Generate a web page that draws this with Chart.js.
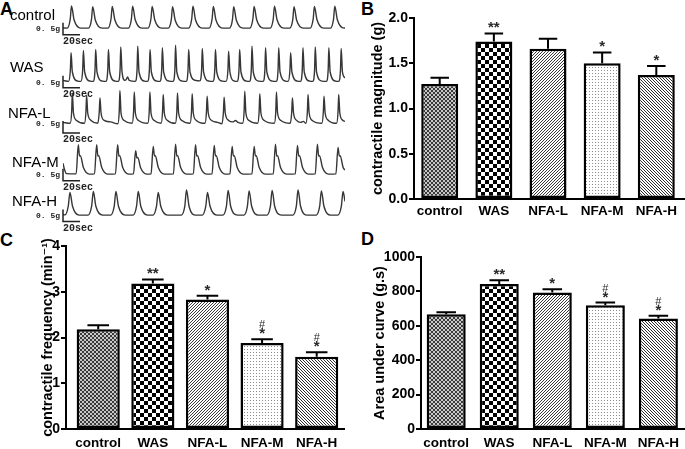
<!DOCTYPE html>
<html>
<head>
<meta charset="utf-8">
<script src="https://cdn.jsdelivr.net/npm/chart.js@4.4.0/dist/chart.umd.min.js"></script>
<style>
  body { margin: 0; width: 685px; height: 449px; position: relative; overflow: hidden; background: #fff; }
  canvas { position: absolute; }
  .letter { position: absolute; font: bold 18px "Liberation Sans", Arial, sans-serif; line-height: 1; color: #000; }
</style>
</head>
<body>
<div class="letter" style="left:0;top:0">A</div>
<div class="letter" style="left:361px;top:0">B</div>
<div class="letter" style="left:0;top:231px">C</div>
<div class="letter" style="left:361px;top:230px">D</div>

<canvas id="trControl" width="345" height="62" style="left:0;top:-12px"></canvas>
<canvas id="trWAS" width="345" height="62" style="left:0;top:42px"></canvas>
<canvas id="trNFAL" width="345" height="62" style="left:0;top:83px"></canvas>
<canvas id="trNFAM" width="345" height="62" style="left:0;top:134px"></canvas>
<canvas id="trNFAH" width="345" height="62" style="left:0;top:175px"></canvas>

<canvas id="chartB" width="340" height="225" style="left:345px;top:0"></canvas>
<canvas id="chartC" width="345" height="224" style="left:0;top:225px"></canvas>
<canvas id="chartD" width="340" height="224" style="left:345px;top:225px"></canvas>

<script>
// =========================================================
// Bar panels B, C, D
const groups = ['control', 'WAS', 'NFA-L', 'NFA-M', 'NFA-H'];

const magnitude = [1.27, 1.74, 1.66, 1.50, 1.37];
const magnitudeErr = [0.07, 0.09, 0.11, 0.12, 0.10];
const starsB = ['', '**', '', '*', '*'];
const hashB = ['', '', '', '', ''];
const ticksB = [0, 0.5, 1.0, 1.5, 2.0];

const frequency = [2.18, 3.18, 2.83, 1.88, 1.58];
const frequencyErr = [0.09, 0.09, 0.08, 0.08, 0.10];
const starsC = ['', '**', '*', '*', '*'];
const hashC = ['', '', '', '#', '#'];
const ticksC = [0, 1, 2, 3, 4];

const auc = [667, 843, 793, 720, 642];
const aucErr = [12, 22, 19, 15, 16];
const starsD = ['', '**', '*', '*', '*'];
const hashD = ['', '', '', '#', '#'];
const ticksD = [0, 200, 400, 600, 800, 1000];

// =========================================================
// Panel A traces: [time (s), force (g)]
const traceControl = [
  [0,0.04],[5,0.03],[8.5,0.4],[10,0.95],[13,0.38],[21,0.03],
  [30,0.03],[33.5,0.38],[35,0.92],[38,0.37],[46,0.03],
  [53,0.03],[56.5,0.4],[58,0.93],[61,0.38],[69,0.03],
  [77,0.03],[80.5,0.4],[82,0.94],[85,0.38],[93,0.03],
  [100,0.03],[103.5,0.4],[105,0.93],[108,0.38],[116,0.03],
  [124,0.03],[127.5,0.38],[129,0.92],[132,0.37],[140,0.03],
  [148,0.03],[151.5,0.4],[153,0.94],[156,0.38],[164,0.03],
  [172,0.03],[175.5,0.4],[177,0.93],[180,0.38],[188,0.03],
  [196,0.03],[199.5,0.38],[201,0.92],[204,0.37],[212,0.03],
  [220,0.03],[223.5,0.4],[225,0.93],[228,0.38],[236,0.03],
  [244,0.03],[247.5,0.4],[249,0.94],[252,0.38],[260,0.03],
  [267,0.03],[270.5,0.38],[272,0.92],[275,0.37],[283,0.03],
  [291,0.03],[294.5,0.4],[296,0.93],[299,0.38],[307,0.03],
  [315,0.03],[318.5,0.4],[320,0.94],[323,0.38],[331,0.03],[332,0.05]
];
const traceWAS = [
  [0,0.1],[6.5,0.06],[8.7,0.55],[9.5,1.25],[11,0.45],[17.5,0.07],
  [21,0.06],[23.2,0.55],[24,1.35],[25.5,0.45],[32,0.07],
  [35.5,0.06],[37.7,0.55],[38.5,1.39],[40,0.45],[46.5,0.07],
  [50.5,0.06],[52.7,0.55],[53.5,1.39],[55,0.45],[61.5,0.07],
  [65,0.06],[67.2,0.55],[68,1.49],[69.5,0.45],[73,0.1],
  [74.5,0.14],[76,0.24],[78,0.1],
  [85,0.06],[87.2,0.55],[88,1.53],[89.5,0.45],[96,0.07],
  [99.5,0.06],[101.7,0.55],[102.5,1.39],[104,0.45],[110.5,0.07],
  [114,0.06],[116.2,0.55],[117,1.46],[118.5,0.45],[125,0.07],
  [129.5,0.06],[131.7,0.55],[132.5,1.57],[134,0.45],[140.5,0.07],
  [145,0.06],[147.2,0.55],[148,1.39],[149.5,0.45],[156,0.1],
  [161,0.08],[163.2,0.55],[164,1.43],[165.5,0.45],[172,0.07],
  [176.5,0.06],[178.7,0.55],[179.5,1.39],[181,0.45],[187.5,0.07],
  [192,0.06],[194.2,0.55],[195,1.32],[196.5,0.45],[202,0.07],
  [205,0.06],[207.2,0.55],[208,1.39],[209.5,0.45],[216,0.07],
  [219.5,0.06],[221.7,0.55],[222.5,1.53],[224,0.45],[230.5,0.07],
  [235.5,0.06],[237.7,0.55],[238.5,1.46],[240,0.45],[246.5,0.07],
  [251,0.06],[253.2,0.55],[254,1.46],[255.5,0.45],[262,0.07],
  [265,0.06],[267.2,0.55],[268,1.25],[269.5,0.45],[276,0.07],
  [279.5,0.06],[281.7,0.55],[282.5,1.46],[284,0.45],[290.5,0.07],
  [294,0.06],[296.2,0.55],[297,1.49],[298.5,0.45],[305,0.07],
  [310,0.06],[312.2,0.55],[313,1.46],[314.5,0.45],[321,0.07],
  [324.5,0.06],[326.7,0.55],[327.5,1.43],[329,0.45],[332,0.2]
];
const traceNFAL = [
  [0,0.06],[8.5,0.02],[10.2,0.5],[11,1.29],[12.3,0.45],[16,0.14],
  [25.3,0.02],[27,0.5],[27.8,1.19],[29.1,0.45],[33,0.14],
  [41,0.02],[42.7,0.5],[43.5,1.08],[44.8,0.45],[48.5,0.14],[56,0.08],
  [64.5,0.0],[66.2,0.5],[67,1.39],[68.3,0.45],[72,0.14],
  [81.4,0.02],[83.1,0.5],[83.9,1.33],[85.2,0.45],[89,0.14],
  [99.8,0.02],[101.5,0.5],[102.3,1.33],[103.6,0.45],[107.5,0.14],
  [115.5,0.02],[117.2,0.5],[118,1.22],[119.3,0.45],[123,0.14],
  [132.3,0.02],[134,0.5],[134.8,1.29],[136.1,0.45],[140,0.14],
  [149.6,0.02],[151.3,0.5],[152.1,1.25],[153.4,0.45],[157,0.14],
  [167.2,0.02],[168.9,0.5],[169.7,1.15],[171,0.45],[175,0.14],[182,0.06],
  [187.2,0.0],[188.9,0.5],[189.7,1.11],[191,0.45],[195,0.14],[200,0.08],[203,0.14],[206,0.06],
  [211.5,0.02],[213.2,0.5],[214,1.36],[215.3,0.45],[219,0.14],
  [229.2,0.02],[230.9,0.5],[231.7,1.25],[233,0.45],[237,0.14],
  [248.8,0.02],[250.5,0.5],[251.3,1.33],[252.6,0.45],[256.5,0.14],
  [267.6,0.02],[269.3,0.5],[270.1,1.08],[271.4,0.45],[275,0.14],[280,0.06],[283,0.1],
  [286,0.02],[287.7,0.5],[288.5,1.22],[289.8,0.45],[293.5,0.14],
  [304.8,0.02],[306.5,0.5],[307.3,1.15],[308.6,0.45],[312.5,0.14],
  [322.1,0.02],[323.8,0.5],[324.6,1.22],[325.9,0.45],[329.5,0.14],[332,0.1]
];
const traceNFAM = [
  [0,0.48],[1.5,0.25],[4,0.05],[15.5,0.04],[18,1.25],[19.5,0.78],[20.5,0.8],[24,0.3],[31,0.03],
  [37.1,0.04],[39.6,1.25],[41.1,0.78],[42.1,0.8],[45.6,0.3],[52.6,0.03],
  [61.8,0.04],[64.3,1.25],[65.8,0.78],[66.8,0.8],[70.3,0.3],[77.3,0.03],
  [83,0.04],[85.5,1.0],[87,0.7],[88,0.72],[91.5,0.28],[98.5,0.03],
  [103.7,0.04],[106.2,1.18],[107.7,0.78],[108.7,0.8],[112.2,0.3],[119.2,0.03],
  [130,0.04],[132.5,1.28],[134,0.78],[135,0.8],[138.5,0.3],[145.5,0.03],
  [153.5,0.04],[156,1.25],[157.5,0.78],[158.5,0.8],[162,0.3],[169,0.03],
  [175.5,0.04],[178,1.22],[179.5,0.78],[180.5,0.8],[184,0.3],[191,0.03],
  [196.6,0.04],[199.1,1.18],[200.6,0.78],[201.6,0.8],[205.1,0.3],[212.1,0.03],
  [222.5,0.04],[225,1.18],[226.5,0.78],[227.5,0.8],[231,0.3],[238,0.03],
  [247.6,0.04],[250.1,1.28],[251.6,0.78],[252.6,0.8],[256.1,0.3],[263.1,0.03],
  [273.5,0.04],[276,1.22],[277.5,0.78],[278.5,0.8],[282,0.3],[289,0.03],
  [297,0.04],[299.5,1.28],[301,0.78],[302,0.8],[305.5,0.3],[312.5,0.03],
  [321.3,0.04],[323.8,1.14],[325.3,0.78],[326.3,0.8],[329.8,0.3],[332,0.2]
];
const traceNFAH = [
  [0,0.05],[2.5,0.04],[6.2,0.4],[8.2,0.97],[11.2,0.4],[19,0.03],
  [29.7,0.03],[33.7,0.4],[35.7,1.01],[38.7,0.4],[46.7,0.03],
  [56.3,0.03],[60.3,0.4],[62.3,1.01],[65.3,0.4],[73.3,0.03],
  [82.6,0.03],[86.6,0.4],[88.6,1.01],[91.6,0.4],[99.6,0.03],
  [106.1,0.03],[110.1,0.4],[112.1,0.97],[115.1,0.4],[123.1,0.03],
  [139.4,0.03],[143.4,0.4],[145.4,1.08],[148.4,0.4],[156.4,0.03],
  [164.1,0.03],[168.1,0.4],[170.1,0.97],[173.1,0.4],[181.1,0.03],
  [188.4,0.03],[192.4,0.4],[194.4,1.06],[197.4,0.4],[205.4,0.03],
  [213.1,0.03],[217.1,0.4],[219.1,1.04],[222.1,0.4],[230.1,0.03],
  [240.2,0.03],[244.2,0.4],[246.2,1.06],[249.2,0.4],[257.2,0.03],
  [270.7,0.03],[274.7,0.4],[276.7,1.08],[279.7,0.4],[287.7,0.03],
  [298.2,0.03],[302.2,0.4],[304.2,1.04],[307.2,0.4],[315.2,0.03],
  [323.7,0.03],[327.7,0.4],[329.7,1.01],[332,0.6]
];

// scale bars
const barSeconds = 20;
const barGrams = 0.5;
const barGramText = '0. 5g';
const barSecText = '20sec';
const traceSpan = 332;

const fontFamily = '"Liberation Sans", "DejaVu Sans", Arial, sans-serif';
Chart.defaults.font.family = fontFamily;
Chart.defaults.animation = false;

// =======================
// Traces
// =======================
function drawTrace(id, points, label, labelX, labelDy, barLow) {
  const decor = {
    id: 'traceDecor',
    afterDraw(chart) {
      const { ctx, scales: { x, y } } = chart;
      const x0 = x.getPixelForValue(0);
      const x1 = x.getPixelForValue(barSeconds);
      const yb = y.getPixelForValue(barLow);
      const yt = y.getPixelForValue(barLow + barGrams);
      const base = y.getPixelForValue(0);
      ctx.save();
      ctx.strokeStyle = '#222';
      ctx.lineWidth = 1.5;
      ctx.beginPath();
      ctx.moveTo(x0, yt);
      ctx.lineTo(x0, yb);
      ctx.lineTo(x1, yb);
      ctx.stroke();
      ctx.fillStyle = '#222';
      ctx.font = 'bold 8px "Liberation Mono", monospace';
      ctx.textAlign = 'right';
      ctx.textBaseline = 'middle';
      ctx.fillText(barGramText, x0 - 3, base + 0.5);
      ctx.font = 'bold 10px "Liberation Mono", monospace';
      ctx.textAlign = 'left';
      ctx.textBaseline = 'top';
      ctx.fillText(barSecText, x0, yb + 1.5);
      ctx.fillStyle = '#000';
      ctx.font = '15px ' + fontFamily;
      ctx.textBaseline = 'middle';
      ctx.fillText(label, labelX, base + labelDy);
      ctx.restore();
    }
  };

  new Chart(document.getElementById(id), {
    type: 'line',
    data: {
      datasets: [{
        data: points,
        borderColor: '#363636',
        borderWidth: 1.4,
        pointRadius: 0,
        cubicInterpolationMode: 'monotone',
        fill: false
      }]
    },
    options: {
      responsive: false,
      devicePixelRatio: 1,
      layout: { padding: { left: 63, right: 0, top: 0, bottom: 14 } },
      scales: {
        x: { type: 'linear', min: 0, max: traceSpan, display: false },
        y: { min: -0.3, max: 1.7, display: false }
      },
      plugins: { legend: { display: false }, tooltip: { enabled: false } }
    },
    plugins: [decor]
  });
}

drawTrace('trControl', traceControl, 'control', 10, -13, -0.25);
drawTrace('trWAS', traceWAS, 'WAS', 10, -15, -0.21);
drawTrace('trNFAL', traceNFAL, 'NFA-L', 8, -10, -0.38);
drawTrace('trNFAM', traceNFAM, 'NFA-M', 12, -12, -0.25);
drawTrace('trNFAH', traceNFAH, 'NFA-H', 12, -13.5, -0.24);

// =======================
// Bar fill patterns
// =======================
function makePattern(size, paint) {
  const c = document.createElement('canvas');
  c.width = size;
  c.height = size;
  const g = c.getContext('2d');
  g.fillStyle = '#fff';
  g.fillRect(0, 0, size, size);
  paint(g);
  return g.createPattern(c, 'repeat');
}

const barFills = [
  makePattern(4, g => {           // fine checker
    g.fillStyle = '#c8c8c8'; g.fillRect(0, 0, 4, 4);
    g.fillStyle = '#3a3a3a'; g.fillRect(0, 0, 2, 2); g.fillRect(2, 2, 2, 2);
  }),
  makePattern(8, g => {           // coarse checker
    g.fillStyle = '#000'; g.fillRect(0, 0, 4, 4); g.fillRect(4, 4, 4, 4);
  }),
  makePattern(3, g => {           // "/" hatching
    g.fillStyle = '#3a3a3a'; g.fillRect(2, 0, 1, 1); g.fillRect(1, 1, 1, 1); g.fillRect(0, 2, 1, 1);
  }),
  makePattern(3, g => {           // sparse dots
    g.fillStyle = '#8c8c8c'; g.fillRect(1, 1, 1, 1);
  }),
  makePattern(3, g => {           // "\" hatching
    g.fillStyle = '#2e2e2e'; g.fillRect(0, 0, 1, 1); g.fillRect(1, 1, 1, 1); g.fillRect(2, 2, 1, 1);
  })
];

// =======================
// Bar charts
// =======================
function drawBarPanel(id, values, errs, stars, hashes, yTicks, cfg) {
  const errPlugin = {
    id: 'errBars',
    afterDatasetsDraw(chart) {
      const { ctx } = chart;
      const ys = chart.scales.y;
      const bars = chart.getDatasetMeta(0).data;
      ctx.save();
      bars.forEach((bar, i) => {
        const yTop = ys.getPixelForValue(values[i]);
        const yCap = ys.getPixelForValue(values[i] + errs[i]);
        const half = bar.width / 4;
        ctx.strokeStyle = '#000';
        ctx.lineWidth = 2;
        ctx.beginPath();
        ctx.moveTo(bar.x, yTop);
        ctx.lineTo(bar.x, yCap);
        ctx.moveTo(bar.x - half, yCap);
        ctx.lineTo(bar.x + half, yCap);
        ctx.stroke();
        ctx.fillStyle = '#2a2a2a';
        ctx.textAlign = 'center';
        ctx.textBaseline = 'alphabetic';
        if (stars[i]) {
          ctx.font = 'bold 15px ' + fontFamily;
          ctx.fillText(stars[i], bar.x, yCap - 1);
        }
        if (hashes[i]) {
          ctx.font = '11px ' + fontFamily;
          ctx.fillText(hashes[i], bar.x, yCap - 11);
        }
      });
      ctx.restore();
    }
  };

  new Chart(document.getElementById(id), {
    type: 'bar',
    data: {
      datasets: [{
        data: values.map((v, i) => ({ x: i, y: v })),
        backgroundColor: barFills,
        borderColor: '#000',
        borderWidth: 2.5,
        borderSkipped: false,
        barPercentage: cfg.barPct,
        categoryPercentage: 1
      }]
    },
    options: {
      responsive: false,
      devicePixelRatio: 1,
      layout: { padding: { top: cfg.padTop, right: cfg.padRight, bottom: 0, left: 0 } },
      scales: {
        x: {
          type: 'linear',
          min: cfg.xMin,
          max: cfg.xMax,
          offset: false,
          afterBuildTicks: ax => { ax.ticks = groups.map((g, i) => ({ value: i })); },
          afterFit: ax => { ax.height = cfg.xh; },
          ticks: {
            callback: v => groups[v],
            color: '#000',
            font: { size: 13.5, weight: 'bold' },
            padding: cfg.xPad,
            autoSkip: false,
            maxRotation: 0
          },
          grid: { display: false, drawTicks: false, offset: false },
          border: { color: '#000', width: 2 }
        },
        y: {
          min: 0,
          max: yTicks[yTicks.length - 1],
          afterBuildTicks: ax => { ax.ticks = yTicks.map(v => ({ value: v })); },
          afterFit: ax => { ax.width = cfg.yw; },
          ticks: {
            callback: cfg.fmt,
            color: '#000',
            font: { size: 14, weight: 'bold' },
            padding: 1
          },
          grid: { drawOnChartArea: false, tickLength: 5, color: '#000', lineWidth: 2 },
          border: { color: '#000', width: 2 },
          title: {
            display: true,
            text: cfg.title,
            color: '#000',
            font: { size: 14.5, weight: 'bold' },
            padding: { top: cfg.titlePad, bottom: 0 }
          }
        }
      },
      plugins: { legend: { display: false }, tooltip: { enabled: false } }
    },
    plugins: [errPlugin]
  });
}

drawBarPanel('chartB', magnitude, magnitudeErr, starsB, hashB, ticksB, {
  padTop: 18, padRight: 0, xh: 26, xPad: 4, yw: 69,
  xMin: -0.475, xMax: 4.53, barPct: 0.683,
  title: 'contractile magnitude (g)', titlePad: 24,
  fmt: v => v.toFixed(1)
});

drawBarPanel('chartC', frequency, frequencyErr, starsC, hashC, ticksC, {
  padTop: 21, padRight: 1, xh: 20, xPad: 6, yw: 66,
  xMin: -0.59, xMax: 4.5, barPct: 0.79,
  title: 'contractile frequency (min\u207B\u00B9)', titlePad: 39,
  fmt: v => String(v)
});

drawBarPanel('chartD', auc, aucErr, starsD, hashD, ticksD, {
  padTop: 32, padRight: 0, xh: 20, xPad: 6, yw: 76,
  xMin: -0.475, xMax: 4.5, barPct: 0.736,
  title: 'Area under curve (g.s)', titlePad: 26,
  fmt: v => String(v)
});
</script>
</body>
</html>
